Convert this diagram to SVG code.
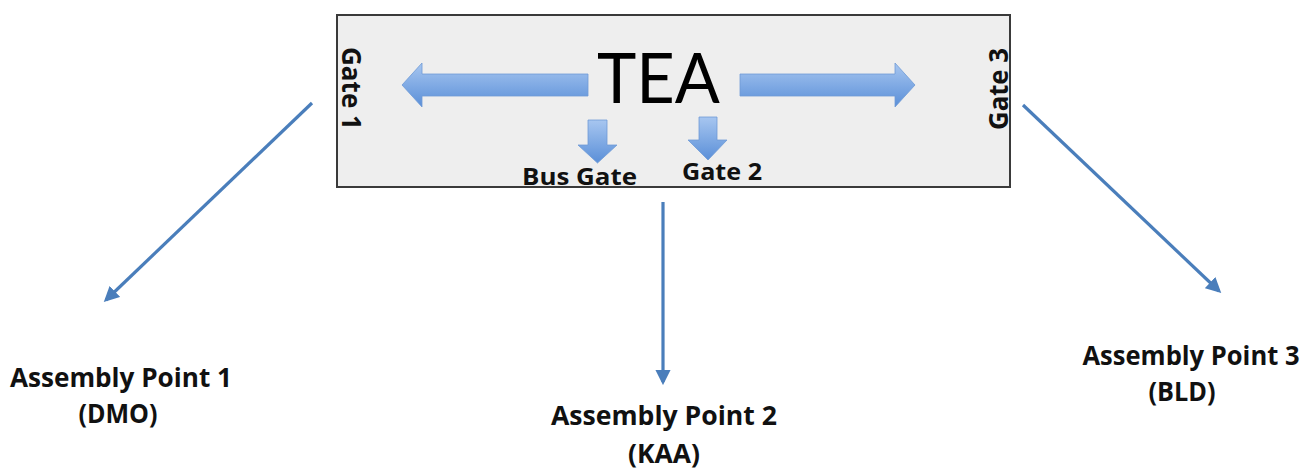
<svg xmlns="http://www.w3.org/2000/svg" width="1316" height="470" viewBox="0 0 1316 470">
<style>
  .lbl { font-family: "Open Sans", Lato, "Liberation Sans", sans-serif; font-weight: bold; fill: #111; }
  .ap { font-size: 27px; text-anchor: middle; }
  .conn { stroke: #4a7ebb; stroke-width: 3.2; fill: none; marker-end: url(#ah); }
  .blk { fill: url(#bg); stroke: #6f9bd6; stroke-width: 0.8; }
</style>
<defs>
  <marker id="ah" viewBox="0 0 10 10" refX="8" refY="5" markerWidth="4.8" markerHeight="4.8" orient="auto" markerUnits="strokeWidth">
    <path d="M0,0 L10,5 L0,10 z" fill="#4a7ebb"/>
  </marker>
  <linearGradient id="bg" x1="0" y1="0" x2="0" y2="1">
    <stop offset="0" stop-color="#a7c6f0"/>
    <stop offset="1" stop-color="#5a8fd8"/>
  </linearGradient>
</defs>
<rect width="1316" height="470" fill="#ffffff"/>

<g id="tea">
  <rect x="337" y="15" width="673" height="172" fill="#eeeeee" stroke="#3a3a3a" stroke-width="2"/>
  <text x="597" y="103" font-family="Lato, 'Open Sans', 'Liberation Sans', sans-serif" font-size="70" fill="#000" textLength="123" lengthAdjust="spacingAndGlyphs">TEA</text>
  <path class="blk" d="M402,85 L422,63 L422,74 L588,74 L588,96 L422,96 L422,107 Z"/>
  <path class="blk" d="M915,85 L895,63 L895,74 L740,74 L740,96 L895,96 L895,107 Z"/>
  <path class="blk" d="M588,120 L607,120 L607,145 L617,145 L597.5,163 L578,145 L588,145 Z"/>
  <path class="blk" d="M699,117 L717,117 L717,140 L727,140 L708,160 L688,140 L699,140 Z"/>
</g>

<g id="gate1">
  <text class="lbl" transform="translate(342,47) rotate(90)" font-size="27" textLength="83" lengthAdjust="spacingAndGlyphs">Gate 1</text>
</g>
<g id="gate3">
  <text class="lbl" transform="translate(1008,130) rotate(-90)" font-size="27" textLength="82" lengthAdjust="spacingAndGlyphs">Gate 3</text>
</g>
<g id="busgate">
  <text class="lbl" x="522" y="185" font-size="24" textLength="115" lengthAdjust="spacingAndGlyphs">Bus Gate</text>
</g>
<g id="gate2">
  <text class="lbl" x="682" y="180" font-size="24" textLength="80" lengthAdjust="spacingAndGlyphs">Gate 2</text>
</g>

<g id="connectors">
  <line class="conn" x1="312" y1="103" x2="106" y2="300"/>
  <line class="conn" x1="663" y1="202" x2="663" y2="382"/>
  <line class="conn" x1="1023" y1="105" x2="1219" y2="291"/>
</g>

<g id="ap1">
  <text class="lbl ap" x="121" y="387" textLength="222" lengthAdjust="spacingAndGlyphs">Assembly Point 1</text>
  <text class="lbl ap" x="118" y="423" textLength="79" lengthAdjust="spacingAndGlyphs">(DMO)</text>
</g>
<g id="ap2">
  <text class="lbl ap" x="664" y="425" textLength="226" lengthAdjust="spacingAndGlyphs">Assembly Point 2</text>
  <text class="lbl ap" x="664" y="463" textLength="72" lengthAdjust="spacingAndGlyphs">(KAA)</text>
</g>
<g id="ap3">
  <text class="lbl ap" x="1191" y="365" textLength="217" lengthAdjust="spacingAndGlyphs">Assembly Point 3</text>
  <text class="lbl ap" x="1182" y="401" textLength="67" lengthAdjust="spacingAndGlyphs">(BLD)</text>
</g>
</svg>
